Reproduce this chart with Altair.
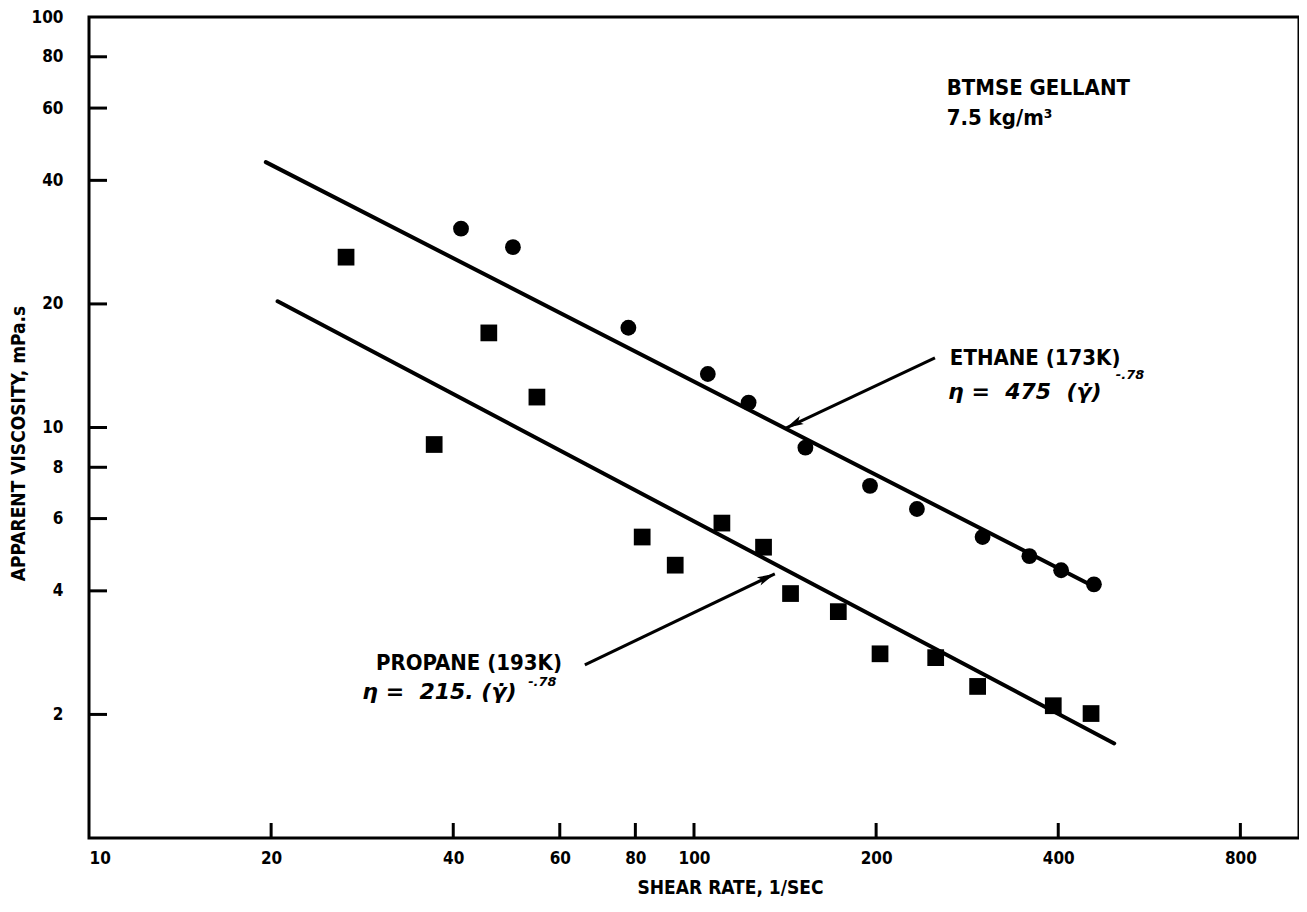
import altair as alt
import pandas as pd

# ---- data ----
ethane_rate = [41.2, 50.2, 77.9, 105.4, 123.1, 152.8, 195.4, 233.6, 299.9, 358.4, 404.4, 458.2]
ethane_visc = [30.5, 27.5, 17.5, 13.5, 11.5, 8.93, 7.21, 6.33, 5.41, 4.86, 4.49, 4.15]

propane_rate = [26.6, 37.2, 45.8, 55.0, 82.1, 93.1, 111.2, 130.3, 144.4, 173.2, 203.0, 250.9, 294.3, 392.5, 453.2]
propane_visc = [26.0, 9.09, 17.0, 11.86, 5.41, 4.62, 5.85, 5.11, 3.94, 3.56, 2.81, 2.75, 2.34, 2.10, 2.01]

ethane_fit_rate = [19.6, 458.0]
ethane_fit_visc = [44.3, 4.1]
propane_fit_rate = [20.5, 495.0]
propane_fit_visc = [20.3, 1.70]

x_ticks = [10, 20, 40, 60, 80, 100, 200, 400, 800]
y_ticks = [2, 4, 6, 8, 10, 20, 40, 60, 80, 100]

# annotation anchors (data coordinates)
arrow_start_rate = [250.2, 66.0]
arrow_start_visc = [14.77, 2.64]
arrow_end_rate = [141.9, 136.0]
arrow_end_visc = [9.97, 4.40]
arrow_angle = [243, 65]

label_text = ["BTMSE GELLANT", "7.5 kg/m³", "ETHANE (173K)", "PROPANE (193K)"]
label_rate = [261.6, 261.6, 264.8, 29.8]
label_visc = [67.0, 56.8, 14.77, 2.67]

NB = "\u00a0"
eq_text = ["η" + NB + "=" + NB * 2 + "475" + NB * 2 + "(γ\u0307)",
           "η" + NB + "=" + NB * 2 + "215." + NB + "(γ\u0307)"]
eq_rate = [263.0, 28.3]
eq_visc = [12.2, 2.27]
exp_text = ["-.78", "-.78"]
exp_rate = [498.0, 53.2]
exp_visc = [13.4, 2.40]

FONT = "Liberation Sans Narrow, DejaVu Sans Condensed, Arial Narrow, DejaVu Sans, sans-serif"
EQFONT = "DejaVu Sans, Liberation Sans, sans-serif"
W, H = 1210, 821

xs = alt.Scale(type="log", domain=[10, 1000], nice=False)
ys = alt.Scale(type="log", domain=[1, 100], nice=False)

x_axis = alt.Axis(values=x_ticks, title="SHEAR RATE, 1/SEC", format="d",
                  labelPadding=12, titleX=641, titleY=40)
y_axis = alt.Axis(values=y_ticks, title="APPARENT VISCOSITY, mPa.s", format="d",
                  labelPadding=26, titleX=-71, titleY=426, titleAngle=-90,
                  titleBaseline="middle", titleAlign="center")

def X(field):
    return alt.X(field, type="quantitative", scale=xs, axis=x_axis)

def Y(field):
    return alt.Y(field, type="quantitative", scale=ys, axis=y_axis)

eth = pd.DataFrame({"rate": ethane_rate, "visc": ethane_visc})
pro = pd.DataFrame({"rate": propane_rate, "visc": propane_visc})
fits = pd.DataFrame({
    "rate": ethane_fit_rate + propane_fit_rate,
    "visc": ethane_fit_visc + propane_fit_visc,
    "series": ["ethane", "ethane", "propane", "propane"],
})
arrows = pd.DataFrame({
    "r1": arrow_start_rate, "v1": arrow_start_visc,
    "r2": arrow_end_rate, "v2": arrow_end_visc, "ang": arrow_angle,
})
labels = pd.DataFrame({"t": label_text, "rate": label_rate, "visc": label_visc})
eqs = pd.DataFrame({"t": eq_text, "rate": eq_rate, "visc": eq_visc})
exps = pd.DataFrame({"t": exp_text, "rate": exp_rate, "visc": exp_visc})
xt = pd.DataFrame({"v": [v for v in x_ticks if v != 10]})
yt = pd.DataFrame({"v": [v for v in y_ticks if v != 100]})

eth_pts = alt.Chart(eth).mark_point(shape="circle", filled=True, size=250, color="black", opacity=1).encode(
    x=X("rate"), y=Y("visc"))
pro_pts = alt.Chart(pro).mark_point(shape="square", filled=True, size=280, color="black", opacity=1).encode(
    x=X("rate"), y=Y("visc"))
fit_lines = alt.Chart(fits).mark_line(color="black", strokeWidth=4, strokeCap="round").encode(
    x=X("rate"), y=Y("visc"), detail="series:N")

arrow_lines = alt.Chart(arrows).mark_rule(color="black", strokeWidth=3).encode(
    x=X("r1"), y=Y("v1"), x2="r2", y2="v2")
arrow_heads = alt.Chart(arrows).mark_point(
    shape="M0,0L0.55,2.2L0,1.7L-0.55,2.2Z", filled=True, size=260, color="black", opacity=1
).encode(x=X("r2"), y=Y("v2"), angle=alt.Angle("ang:Q", scale=None))

txt = alt.Chart(labels).mark_text(align="left", baseline="middle", font=FONT, fontWeight="bold",
                                  fontSize=22, color="black").encode(
    x=X("rate"), y=Y("visc"), text="t:N")
eq = alt.Chart(eqs).mark_text(align="left", baseline="middle", font=EQFONT,
                              fontWeight="bold", fontStyle="italic", fontSize=22, color="black").encode(
    x=X("rate"), y=Y("visc"), text="t:N")
ex = alt.Chart(exps).mark_text(align="left", baseline="middle", font=EQFONT,
                               fontWeight="bold", fontStyle="italic", fontSize=13, color="black").encode(
    x=X("rate"), y=Y("visc"), text="t:N")

xtick_marks = alt.Chart(xt).mark_rule(color="black", strokeWidth=3).encode(
    x=X("v"), y=alt.value(H), y2=alt.value(H - 15))
ytick_marks = alt.Chart(yt).mark_rule(color="black", strokeWidth=3).encode(
    y=Y("v"), x=alt.value(0), x2=alt.value(18))

chart = alt.layer(
    fit_lines, eth_pts, pro_pts, arrow_lines, arrow_heads, txt, eq, ex, xtick_marks, ytick_marks
).properties(
    width=W, height=H,
    padding={"left": 81, "top": 9, "right": 0, "bottom": 60},
    autosize=alt.AutoSizeParams(type="none"),
    background="white",
).configure_view(
    stroke="black", strokeWidth=3
).configure_axis(
    domain=False, ticks=False, grid=False,
    labelFont=FONT, labelFontWeight="bold", labelFontSize=17, labelColor="black",
    titleFont=FONT, titleFontWeight="bold", titleFontSize=19, titleColor="black",
)

chart.save("out.html", embed_options={"renderer": "svg", "actions": False})
